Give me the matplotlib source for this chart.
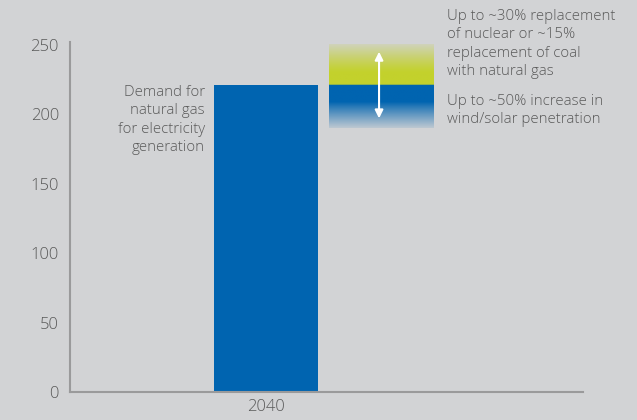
import numpy as np
import matplotlib
matplotlib.use("Agg")
from matplotlib import pyplot as plt
from matplotlib.colors import to_rgb

# data
categories = ["2040"]
demand = [221]
range_top = 250      # upper end of the uncertainty band
range_bottom = 190   # lower end of the uncertainty band
arrow_span = [197, 245]
yticks = [0, 50, 100, 150, 200, 250]

bar_label = "Demand for\nnatural gas\nfor electricity\ngeneration"
up_note = "Up to ~30% replacement\nof nuclear or ~15%\nreplacement of coal\nwith natural gas"
down_note = "Up to ~50% increase in\nwind/solar penetration"

bg = "#d2d3d5"
blue = "#0064b0"
green = "#c3d12c"
txt = "#5a5a5a"

plt.rcParams['font.family'] = ['Open Sans', 'DejaVu Sans']
plt.rcParams['font.weight'] = 'light'

fig = plt.figure(figsize=(6.37, 4.2), dpi=100)
fig.patch.set_facecolor(bg)
ax = fig.add_axes([70 / 637, 28 / 420, 513 / 637, 350 / 420])
ax.set_facecolor(bg)

x = np.arange(len(categories))
ax.bar(x, demand, width=1.0, color=blue, zorder=2)

# gradient box showing the range around the demand
box_x = x[0] + 1.11
n = 200
vals = np.linspace(range_bottom, range_top, n)
img = np.zeros((n, 1, 4))
bgc = np.array(to_rgb(bg))
gc = np.array(to_rgb(green))
bc = np.array(to_rgb(blue))
for i, v in enumerate(vals):
    if v >= demand[0]:
        t = (v - demand[0]) / (range_top - demand[0])
        w = np.clip((t - 0.3) / 0.7, 0, 1) ** 1.2 * 0.85
        c = gc * (1 - w) + bgc * w
    else:
        t = (demand[0] - v) / (demand[0] - range_bottom)
        w = np.clip((t - 0.4) / 0.6, 0, 1) ** 0.9 * 0.9
        c = bc * (1 - w) + bgc * w
    img[i, 0, :3] = c
    img[i, 0, 3] = 1
ax.imshow(img, origin="lower", aspect="auto", interpolation="bilinear",
          extent=[box_x - 0.5, box_x + 0.5, range_bottom, range_top], zorder=2)

ax.annotate("", xy=(box_x - 0.02, arrow_span[1]), xytext=(box_x - 0.02, arrow_span[0]),
            arrowprops=dict(arrowstyle="<|-|>", color="white", lw=1.5,
                            mutation_scale=12, shrinkA=0, shrinkB=0), zorder=3)

ax.set_xlim(-1.88, 3.05)
ax.set_ylim(0, 252)
ax.set_yticks(yticks)
ax.set_xticks(x)
ax.set_xticklabels(categories)
ax.tick_params(length=0, colors=txt, labelsize=12)
ax.tick_params(axis="y", pad=8)
ax.tick_params(axis="x", pad=5)
for s in ["top", "right"]:
    ax.spines[s].set_visible(False)
for s in ["left", "bottom"]:
    ax.spines[s].set_color("#9a9a9b")
    ax.spines[s].set_linewidth(1.5)

fig.text(205 / 637, 1 - 85 / 420, bar_label, ha="right", va="top",
         color=txt, fontsize=10.8, linespacing=1.3)
fig.text(447 / 637, 1 - 9 / 420, up_note, ha="left", va="top",
         color=txt, fontsize=10.8, linespacing=1.3)
fig.text(447 / 637, 1 - 94 / 420, down_note, ha="left", va="top",
         color=txt, fontsize=10.8, linespacing=1.3)

fig.savefig("out.png", dpi=100, facecolor=bg)
